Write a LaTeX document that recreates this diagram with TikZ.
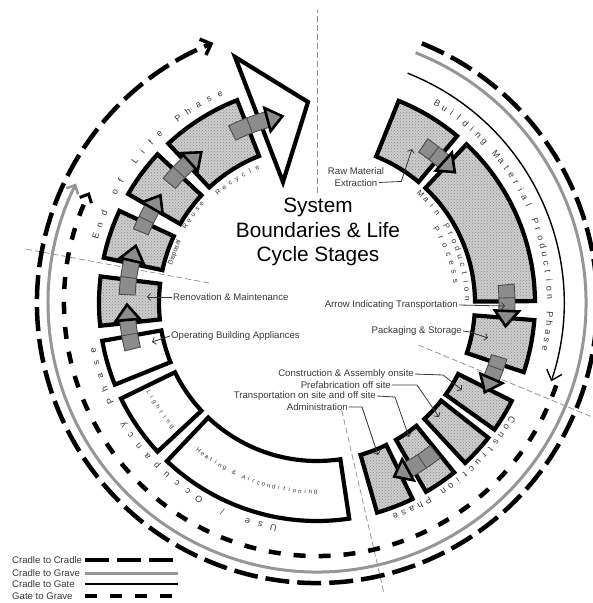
\documentclass[tikz,border=0pt]{standalone}
\usepackage{fontspec}
\setmainfont{Liberation Sans}
\usetikzlibrary{arrows.meta, patterns, calc}

\definecolor{linegray}{RGB}{150, 150, 150}
\definecolor{arrowgray}{RGB}{140, 140, 140}
\definecolor{hatchgray}{RGB}{205, 205, 205}
\definecolor{textgray}{RGB}{55, 55, 55}

\tikzset{
  stagebox/.style={draw=black, line width=4.2pt, line join=miter},
  hatched/.style={preaction={fill=hatchgray}, pattern=crosshatch dots, pattern color=black!45},
  transband/.style={fill=arrowgray, draw=black!70, line width=0.9pt},
  transhead/.style={fill=arrowgray, draw=black, line width=2.6pt, line join=miter},
  phaseline/.style={draw=black!45, line width=0.7pt, dash pattern=on 6pt off 3pt},
  cradlecradle/.style={line width=4.5pt, dash pattern=on 24pt off 8pt},
  cradlegrave/.style={draw=linegray, line width=3pt},
  cradlegate/.style={line width=1.4pt},
  gategrave/.style={line width=4.5pt, dash pattern=on 12pt off 13pt},
  lbl/.style={font=\fontsize{9.6}{11.5}\selectfont, text=textgray, inner sep=1pt},
  leader/.style={draw=textgray, line width=0.8pt, -{Straight Barb[length=3pt, width=7pt]}},
  arcchar/.style={anchor=base, inner sep=0pt, text=textgray},
  phasetext/.style={font=\fontsize{9}{10}\selectfont},
  innertext/.style={font=\fontsize{8}{9}\selectfont},
  smalltext/.style={font=\fontsize{6.8}{8}\selectfont},
  tinytext/.style={font=\fontsize{6.1}{7}\selectfont},
}

% annular stage block between two angles
\newcommand\stage[3][]{%
  \draw[stagebox, #1] (#2:158) arc[start angle=#2, end angle=#3, radius=158]
    -- (#3:218) arc[start angle=#3, end angle=#2, radius=218] -- cycle;
}

% gray transport arrow, clockwise from #1 to tip #2
\newcommand\transarrow[2]{%
  \pgfmathsetmacro\headang{#2+4.6}
  \pgfmathsetmacro\midang{(#1+\headang)/2}
  \draw[transband] (#1:182) arc[start angle=#1, end angle=\headang, radius=182]
    -- (\headang:198) arc[start angle=\headang, end angle=#1, radius=198] -- cycle;
  \draw[transband] (\midang:182) -- (\midang:198);
  \draw[transhead] (\headang:178) -- (#2:190) -- (\headang:202) -- cycle;
}

% letters set one by one along a circle
\newcommand\arcword[7][phasetext]{%
  \foreach \ch [count=\k from 0] in {#7} {
    \pgfmathsetmacro\ang{#4+#5*\k}
    \node[arcchar, #1, rotate=\ang#6] (#2-\k) at (\ang:#3) {\ch};
  }
}

\begin{document}
\begin{tikzpicture}[x=1pt, y=1pt]
  \useasboundingbox (-317,-300) rectangle (276,303);

  % phase boundaries
  \foreach \a/\r in {90/293, 169.5/299, -22.5/300, -77/296}
    \draw[phaseline] (\a:110) -- (\a:\r);

  % building material production
  \stage[hatched]{50}{68}
  \stage[hatched]{0.5}{46.7}
  \stage[hatched]{-18.5}{-4.5}
  % construction
  \stage[hatched]{-35.5}{-26.7}
  \stage[hatched]{-47.2}{-38.2}
  \stage[hatched]{-60}{-51}
  \stage[hatched]{-74}{-64}
  % use / occupancy
  \stage{226.5}{278.5}
  \stage{206}{223}
  \stage{190}{202}
  % end of life
  \stage[hatched]{173}{186}
  \stage[hatched]{155}{168}
  \stage[hatched]{137}{150}
  \stage[hatched]{111.5}{133}
  \draw[stagebox, fill=white] (-82,246) -- (-9,201) -- (-34,121) -- cycle;

  % transport arrows
  \transarrow{56}{43.5}
  \transarrow{5.5}{-7}
  \transarrow{-16.5}{-28}
  \transarrow{-51.5}{-66}
  \transarrow{194}{180.5}
  \transarrow{177.5}{162.5}
  \transarrow{158}{145.5}
  \transarrow{141}{127.5}
  \transarrow{116.5}{100.5}

  % system boundaries
  \draw[cradlecradle, -{Straight Barb[length=9pt, width=17pt, line width=3.5pt]}]
    (68:280) arc[start angle=68, end angle=-248.3, radius=280];
  \draw[cradlegrave, -{Straight Barb[length=7pt, width=13pt, line width=2.5pt]}]
    (68.5:269) arc[start angle=68.5, end angle=-206.4, radius=269];
  \draw[cradlegate, -{Straight Barb[length=9pt, width=16pt, line width=1.4pt]}]
    (68.5:247) arc[start angle=68.5, end angle=-18.5, radius=247];
  \draw[gategrave, -{Straight Barb[length=7pt, width=13pt, line width=3pt]}]
    (-19:253) arc[start angle=-19, end angle=-206, radius=253];

  % phase names
  \arcword{eol}{228}{163.2}{-3.02}{-90}{E,n,d,,o,f,,L,i,f,e,,P,h,a,s,e}
  \arcword{bmp}{230}{58.9}{-2.13}{-90}{B,u,i,l,d,i,n,g,,M,a,t,e,r,i,a,l,,P,r,o,d,u,c,t,i,o,n,,P,h,a,s,e}
  \arcword{con}{224}{-31}{-2.28}{-90}{C,o,n,s,t,r,u,c,t,i,o,n,,P,h,a,s,e}
  \arcword{use}{226}{259}{-3.35}{-90}{U,s,e,,/,,O,c,c,u,p,a,n,c,y,,P,h,a,s,e}
  % stage names
  \arcword[innertext]{mpp}{148}{46.6}{-3.2}{-90}{M,a,i,n,,P,r,o,d,u,c,t,i,o,n}
  \arcword[innertext]{pro}{138}{31.8}{-3.8}{-90}{P,r,o,c,e,s,s}
  \node[arcchar, smalltext, anchor=center, rotate=70] (dis) at (160.5:151) {Disposal};
  \arcword[smalltext]{reu}{150}{149.9}{-2.64}{-90}{R,e,u,s,e}
  \arcword[smalltext]{rec}{146}{131.8}{-3.0}{-90}{R,e,c,y,c,l,e}
  \arcword[tinytext]{lig}{192}{207.8}{1.8}{+90}{L,i,g,h,t,i,n,g}
  \arcword[tinytext]{hac}{191}{231.2}{1.6}{+90}{H,e,a,t,i,n,g,,\&,,A,i,r,c,o,n,d,i,t,i,o,n,i,n,g}

  % title
  \node[font=\fontsize{20.8}{24.5}\selectfont, align=center] (title) at (1,71)
    {System\\Boundaries \& Life\\Cycle Stages};

  % labels
  \node[lbl, align=center] (rawlbl) at (39,126) {Raw Material\\Extraction};
  \node[lbl, anchor=west] (renlbl) at (-145,6) {Renovation \& Maintenance};
  \node[lbl, anchor=west] (oplbl) at (-147,-33) {Operating Building Appliances};
  \node[lbl, anchor=east] (trlbl) at (142,-2) {Arrow Indicating Transportation};
  \node[lbl, anchor=east] (paklbl) at (146,-28) {Packaging \& Storage};
  \node[lbl, anchor=east] (calbl) at (98,-71) {Construction \& Assembly onsite};
  \node[lbl, anchor=east] (pflbl) at (75,-82) {Prefabrication off site};
  \node[lbl, anchor=east] (tslbl) at (60,-93) {Transportation on site and off site};
  \node[lbl, anchor=east] (adlbl) at (32,-104) {Administration};

  \coordinate (rawtip) at (95,154);
  \coordinate (rentip) at (-170,6);
  \coordinate (optip) at (-165,-39);
  \coordinate (trtip) at (188,-3);
  \coordinate (paktip) at (171,-35);
  \coordinate (catip) at (145,-87);
  \coordinate (pftip) at (122,-114);
  \coordinate (tstip) at (92,-134);
  \coordinate (adtip) at (61,-152);

  \draw[leader] ([xshift=-6pt, yshift=5pt]rawlbl.south east) -- ++(22,1) -- (rawtip);
  \draw[leader] (renlbl.west) -- (rentip);
  \draw[leader] (oplbl.west) -- (optip);
  \draw[leader] (trlbl.east) -- (trtip);
  \draw[leader] (paklbl.east) -- ++(7,-1) -- (paktip);
  \draw[leader] (calbl.east) -- ++(28,-1) -- (catip);
  \draw[leader] (pflbl.east) -- ++(25,0) -- (pftip);
  \draw[leader] (tslbl.east) -- ++(18,-1) -- (tstip);
  \draw[leader] (adlbl.east) -- ++(13,0) -- (adtip);

  % legend
  \node[lbl, anchor=west] (lcc) at (-306,-257) {Cradle to Cradle};
  \node[lbl, anchor=west] (lcgr) at (-306,-270) {Cradle to Grave};
  \node[lbl, anchor=west] (lcga) at (-306,-281) {Cradle to Gate};
  \node[lbl, anchor=west] (lgg) at (-306,-293) {Gate to Grave};
  \coordinate (legL) at (-232,0);
  \coordinate (legR) at (-139,0);
  \draw[cradlecradle] (legL |- lcc) -- (legR |- lcc);
  \draw[cradlegrave] (legL |- lcgr) -- (legR |- lcgr);
  \draw[cradlegate] (legL |- lcga) -- (legR |- lcga);
  \draw[gategrave] (legL |- lgg) -- (legR |- lgg);
\end{tikzpicture}
\end{document}
